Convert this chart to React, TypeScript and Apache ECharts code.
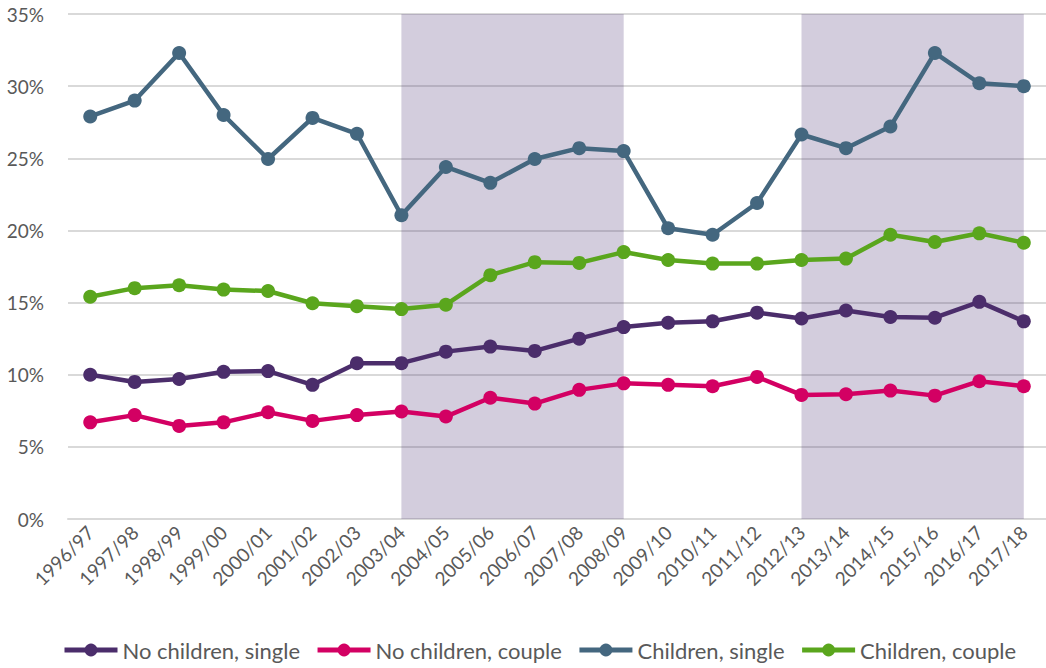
import React, { useEffect, useRef } from "react";
import * as echarts from "echarts";

const categories = [
  "1996/97", "1997/98", "1998/99", "1999/00", "2000/01", "2001/02", "2002/03",
  "2003/04", "2004/05", "2005/06", "2006/07", "2007/08", "2008/09", "2009/10",
  "2010/11", "2011/12", "2012/13", "2013/14", "2014/15", "2015/16", "2016/17", "2017/18",
];

const noChildrenSingle = [
  10.0, 9.5, 9.7, 10.2, 10.25, 9.3, 10.8, 10.8, 11.6, 11.95, 11.65,
  12.5, 13.3, 13.6, 13.7, 14.3, 13.9, 14.45, 14.0, 13.95, 15.05, 13.7,
];
const noChildrenCouple = [
  6.7, 7.2, 6.45, 6.7, 7.4, 6.8, 7.2, 7.45, 7.1, 8.4, 8.0,
  8.95, 9.4, 9.3, 9.2, 9.85, 8.6, 8.65, 8.9, 8.55, 9.55, 9.2,
];
const childrenSingle = [
  27.9, 29.0, 32.3, 28.0, 24.95, 27.8, 26.7, 21.05, 24.4, 23.3, 24.95,
  25.7, 25.5, 20.15, 19.7, 21.9, 26.65, 25.7, 27.2, 32.3, 30.2, 30.0,
];
const childrenCouple = [
  15.4, 16.0, 16.2, 15.9, 15.8, 14.95, 14.75, 14.55, 14.85, 16.9, 17.8,
  17.75, 18.5, 17.95, 17.7, 17.7, 17.95, 18.05, 19.7, 19.2, 19.8, 19.15,
];

const seriesNames = ["No children, single", "No children, couple", "Children, single", "Children, couple"];
const seriesColors = ["#4b2d6b", "#d30063", "#44677f", "#5aa61d"];
const shadedPeriods = [["2003/04", "2008/09"], ["2012/13", "2017/18"]];

const FONT = "Lato, 'Open Sans', sans-serif";

export default function App() {
  const ref = useRef<HTMLDivElement>(null);
  useEffect(() => {
    if (!ref.current) return;
    const chart = echarts.init(ref.current, null, { renderer: "svg" });
    const allData = [noChildrenSingle, noChildrenCouple, childrenSingle, childrenCouple];
    const series: any[] = allData.map((d, i) => ({
      name: seriesNames[i],
      type: "line",
      data: d,
      symbol: "circle",
      symbolSize: 14,
      lineStyle: { width: 4.5, color: seriesColors[i] },
      itemStyle: { color: seriesColors[i] },
      z: 3,
    }));
    series.push({
      name: "shading",
      type: "line",
      data: categories.map(() => null),
      symbol: "none",
      z: 10,
      silent: true,
      markArea: {
        silent: true,
        itemStyle: { color: "rgba(80,55,120,0.25)" },
        data: shadedPeriods.map(([a, b]) => [{ xAxis: a }, { xAxis: b }]),
      },
    });
    chart.setOption({
      animation: false,
      backgroundColor: "#ffffff",
      grid: { left: 68, right: 0, top: 14, bottom: 149, containLabel: false },
      legend: {
        bottom: 2,
        left: 57,
        itemWidth: 53,
        itemHeight: 16,
        itemGap: 15,
        lineStyle: { width: 5 },
        textStyle: { fontFamily: FONT, fontSize: 22, color: "#595959" },
        data: seriesNames,
      },
      xAxis: {
        type: "category",
        data: categories,
        boundaryGap: true,
        axisTick: { show: false },
        axisLine: { lineStyle: { color: "#d9d9d9", width: 2 } },
        axisLabel: {
          rotate: 45,
          interval: 0,
          margin: 10,
          fontFamily: FONT,
          fontSize: 19,
          color: "#595959",
        },
      },
      yAxis: {
        type: "value",
        min: 0,
        max: 35,
        interval: 5,
        axisLine: { show: false },
        axisTick: { show: false },
        splitLine: { lineStyle: { color: "#d9d9d9", width: 2 } },
        axisLabel: {
          formatter: "{value}%",
          margin: 24,
          fontFamily: FONT,
          fontSize: 19,
          color: "#595959",
        },
      },
      series,
    });
    return () => chart.dispose();
  }, []);
  return (
    <div
      ref={ref}
      style={{ position: "fixed", left: 0, top: 0, width: 1046, height: 668 }}
    />
  );
}
